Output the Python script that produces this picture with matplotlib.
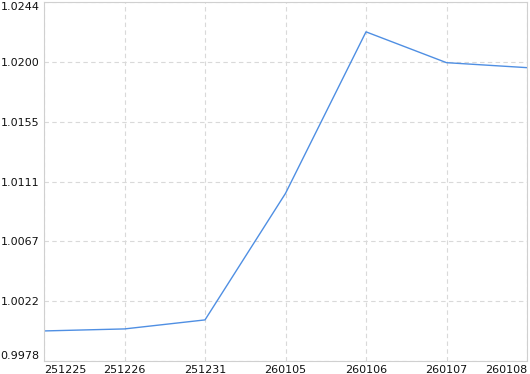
import numpy as np
import matplotlib.pyplot as plt

dates = ["251225", "251226", "251231", "260105", "260106", "260107", "260108"]
values = [1.0000, 1.00015, 1.00082, 1.01022, 1.02222, 1.01993, 1.01956]
ymin, ystep = 0.997767, 0.004445

fig = plt.figure(figsize=(5.30, 3.74), dpi=100)
ax = fig.add_axes([44 / 530, 13 / 374, 483 / 530, 359 / 374])

x = np.arange(len(dates))
ax.plot(x, values, color="#4f8fe3", lw=1.0)

yt = ymin + ystep * np.arange(7)
ax.set_xlim(0, len(dates) - 1)
ax.set_ylim(yt[0], yt[-1])

ax.set_yticks(yt)
ax.set_yticklabels([f"{v:.4f}" for v in yt], fontsize=8)
ax.set_xticks(x)
ax.set_xticklabels(dates, fontsize=8)

ax.grid(True, color="#d9d9d9", ls=(0, (4, 3)), lw=0.8)
ax.tick_params(length=0, pad=3, colors="#111111")
for s in ax.spines.values():
    s.set_color("#d0d0d0")
    s.set_linewidth(0.8)

xl = ax.get_xticklabels()
xl[0].set_ha("left")
xl[-1].set_ha("right")
yl = ax.get_yticklabels()
yl[0].set_va("bottom")
yl[-1].set_va("top")

fig.savefig("out.png", dpi=100)
